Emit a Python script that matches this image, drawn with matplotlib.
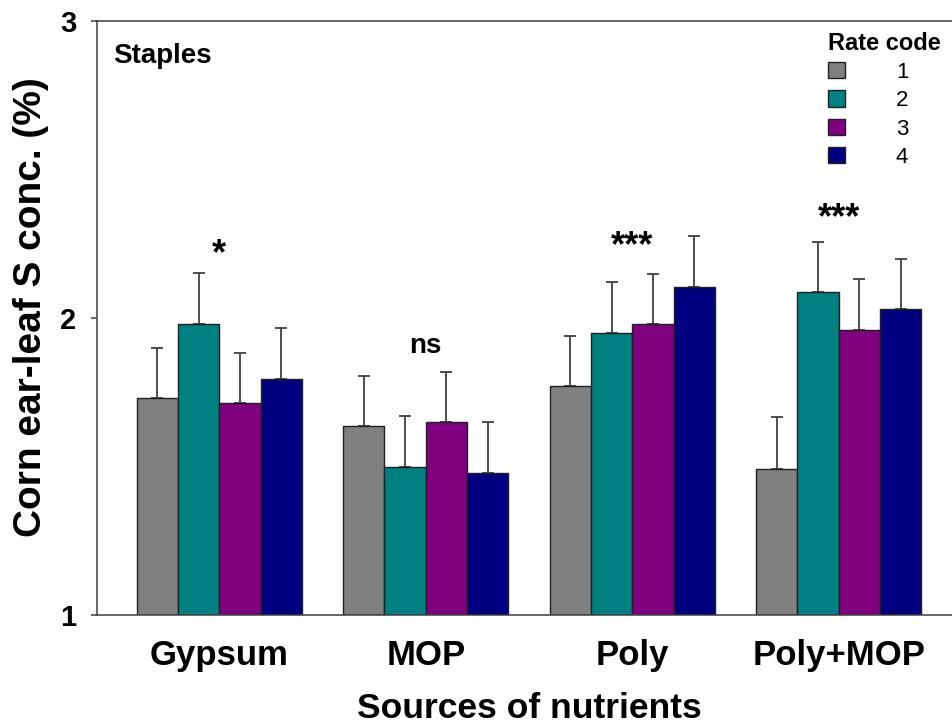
"""Corn ear-leaf S concentration by nutrient source and rate code (Staples)"""

import numpy as np
import matplotlib.pyplot as plt

plt.rcParams['font.family'] = ['Liberation Sans', 'DejaVu Sans']

# Data
sources = ['Gypsum', 'MOP', 'Poly', 'Poly+MOP']
rate_codes = ['1', '2', '3', '4']
rate1 = [1.73, 1.636, 1.771, 1.493]
rate2 = [1.981, 1.499, 1.948, 2.089]
rate3 = [1.715, 1.651, 1.980, 1.960]
rate4 = [1.795, 1.479, 2.105, 2.031]
err1 = [0.168, 0.169, 0.168, 0.175]
err2 = [0.172, 0.171, 0.173, 0.168]
err3 = [0.168, 0.168, 0.167, 0.170]
err4 = [0.172, 0.172, 0.171, 0.167]
signif = ['*', 'ns', '***', '***']
signif_y = [2.182, 1.883, 2.207, 2.302]

colors = ['#808080', '#008080', '#800080', '#000080']

fig = plt.figure(figsize=(9.52, 7.28), dpi=100)
ax = fig.add_axes([0.1019, 0.1552, 0.9076, 0.816])

x = np.arange(len(sources))
width = 0.2
values = [rate1, rate2, rate3, rate4]
errors = [err1, err2, err3, err4]

for i, (vals, errs) in enumerate(zip(values, errors)):
    pos = x + (i - 1.5) * width
    ax.bar(pos, np.array(vals) - 1, width, bottom=1, color=colors[i],
           edgecolor='#202020', linewidth=1.0, label=rate_codes[i], zorder=2)
    ax.errorbar(pos, vals, yerr=[np.zeros(len(errs)), errs], fmt='none',
                ecolor='#404040', elinewidth=1.3, capsize=4.2, capthick=1.3, zorder=1)

# Significance labels
for xi, s, sy in zip(x, signif, signif_y):
    size = 20 if s == 'ns' else 26
    ax.text(xi, sy, s, ha='center', va='baseline', fontsize=size, fontweight='bold')

ax.text(0.019, 0.929, 'Staples', transform=ax.transAxes, fontsize=20,
        fontweight='bold', va='baseline', ha='left')

ax.set_xlim(-0.592, 3.592)
ax.set_ylim(1, 3)
ax.set_yticks([1, 2, 3])
ax.set_xticks(x)
ax.set_xticklabels(sources, fontsize=25, fontweight='bold')
ax.tick_params(axis='x', length=0, pad=17)
ax.tick_params(axis='y', length=4, width=1.1, color='#404040', pad=11,
               labelsize=21)
for lab in ax.get_yticklabels():
    lab.set_fontweight('bold')

for sp in ax.spines.values():
    sp.set_color('#404040')
    sp.set_linewidth(1.1)

ax.set_xlabel('Sources of nutrients', fontsize=25.5, fontweight='bold', labelpad=15)
ax.set_ylabel('Corn ear-leaf S conc. (%)', fontsize=28, fontweight='bold')
ax.yaxis.set_label_coords(-0.056, 0.519)

leg = ax.legend(title='Rate code', loc='upper left', bbox_to_anchor=(0.846, 0.982),
                frameon=False, fontsize=16, handlelength=0.75, handleheight=0.75,
                handletextpad=2.3, labelspacing=0.33, borderpad=0, borderaxespad=0,
                alignment='left',
                title_fontproperties={'weight': 'bold', 'size': 17})

plt.savefig('out.png', dpi=100)
